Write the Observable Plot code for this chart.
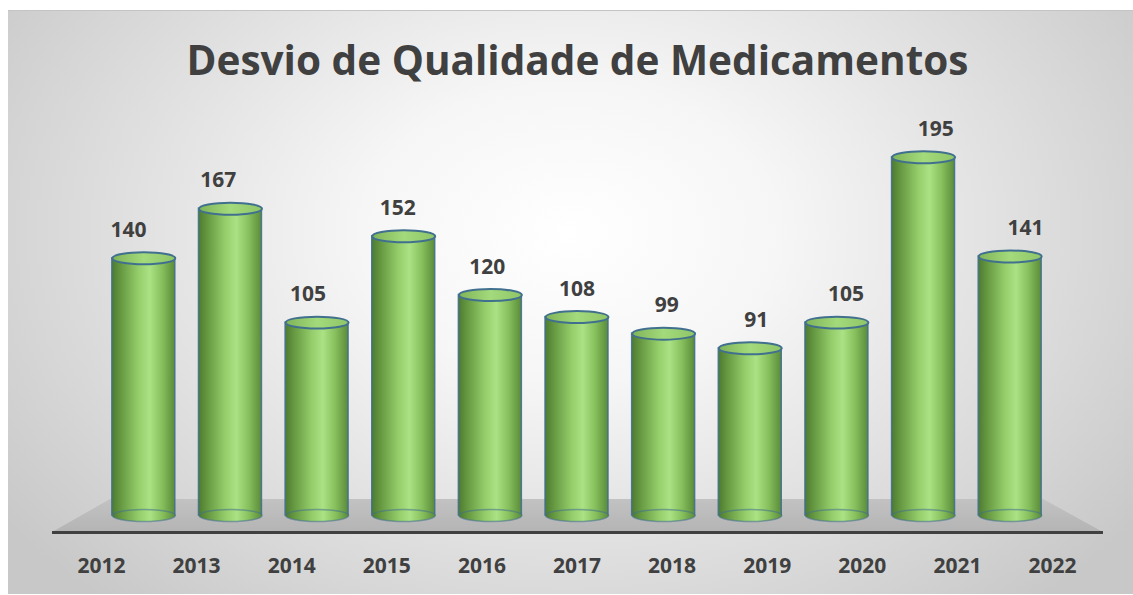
<!DOCTYPE html>
<html>
<head>
<meta charset="utf-8">
<script src="https://cdn.jsdelivr.net/npm/d3@7"></script>
<script src="https://cdn.jsdelivr.net/npm/@observablehq/plot@0.6"></script>
<style>
  html, body { margin: 0; padding: 0; background: #ffffff; }
  #wrap {
    position: absolute; left: 8px; top: 10px; width: 1125px; height: 583px;
    border-top: 1px solid #c4c4c4;
    background: radial-gradient(ellipse 62% 85% at 50% 38%, #ffffff 0%, #f6f6f6 30%, #dfdfdf 65%, #c8c8c8 100%);
    overflow: hidden;
  }
  #title {
    height: 90px; line-height: 90px; text-align: center;
    font-family: "Open Sans", sans-serif; font-weight: 700; font-size: 40.5px;
    color: #404040; padding-left: 14px; box-sizing: border-box;
    transform: translateY(4px);
  }
  #chart svg { display: block; }
</style>
</head>
<body>
<div id="wrap">
  <div id="title">Desvio de Qualidade de Medicamentos</div>
  <div id="chart"></div>
</div>
<script>
// ---- data ----
const years = [2012, 2013, 2014, 2015, 2016, 2017, 2018, 2019, 2020, 2021, 2022];
const values = [140, 167, 105, 152, 120, 108, 99, 91, 105, 195, 141];

// ---- perspective (3D look): bars sit deeper than the year labels ----
const mid = 2017;
const barDepth = 0.911;    // bars on the back plane
const labelDepth = 0.943;  // value labels slightly in front
const halfW = 0.331;       // half bar width in year units

const data = years.map((year, i) => ({
  year,
  value: values[i],
  bx: mid + (year - mid) * barDepth,
  lx: mid + (year - mid) * labelDepth
}));
data.forEach(d => { d.x1 = d.bx - halfW; d.x2 = d.bx + halfW; });

// floor (gray plane) and front edge
const floorBack = 8.7, floorFront = -9.25;
const floor = [
  {y: floorBack, x1: 2012.095, x2: 2021.905},
  {y: floorFront, x1: 2011.485, x2: 2022.536}
];

// ellipse symbol for cylinder caps
const ellipse = {
  draw(ctx, size) {
    const rx = Math.sqrt(size / Math.PI), ry = rx * 0.19, k = 0.5523;
    ctx.moveTo(-rx, 0);
    ctx.bezierCurveTo(-rx, -ry * k, -rx * k, -ry, 0, -ry);
    ctx.bezierCurveTo(rx * k, -ry, rx, -ry * k, rx, 0);
    ctx.bezierCurveTo(rx, ry * k, rx * k, ry, 0, ry);
    ctx.bezierCurveTo(-rx * k, ry, -rx, ry * k, -rx, 0);
    ctx.closePath();
  }
};

const edge = "#41708f";

const plot = Plot.plot({
  width: 1125,
  height: 492,
  marginLeft: 93,
  marginRight: 81,
  marginTop: 46.6,
  marginBottom: 61,
  style: {background: "transparent", color: "#404040", fontFamily: "'Open Sans', sans-serif", overflow: "visible"},
  x: {domain: [2012, 2022], axis: null},
  y: {domain: [floorFront, 200], axis: null},
  marks: [
    Plot.areaX(floor, {y: "y", x1: "x1", x2: "x2", fill: "url(#floorGrad)"}),
    Plot.ruleY([floorFront], {x1: 2011.485, x2: 2022.536, stroke: "#404040", strokeWidth: 3}),
    Plot.rectY(data, {x1: "x1", x2: "x2", y1: 0, y2: "value", fill: "url(#bodyGrad)", stroke: edge, strokeWidth: 1.5, strokeOpacity: 0.9}),
    Plot.dot(data, {x: "bx", y: 0, r: 31.5, symbol: ellipse, fill: "url(#bodyGrad)", stroke: edge, strokeWidth: 1.5, strokeOpacity: 0.55}),
    Plot.dot(data, {x: "bx", y: "value", r: 31.5, symbol: ellipse, fill: "url(#topGrad)", stroke: edge, strokeWidth: 2}),
    Plot.text(data, {x: "lx", y: "value", text: d => String(d.value), dy: -28, fontSize: 21, fontWeight: "bold", fill: "#404040"}),
    Plot.axisX({ticks: years, tickFormat: d => String(d), tickSize: 0, tickPadding: 26, fontSize: 21, fontWeight: "bold", color: "#404040"})
  ]
});

// gradients
const defs = d3.select(plot).insert("defs", ":first-child");
function grad(id, stops, vertical) {
  const g = defs.append("linearGradient").attr("id", id)
    .attr("x1", 0).attr("y1", 0).attr("x2", vertical ? 0 : 1).attr("y2", vertical ? 1 : 0);
  stops.forEach(([o, c]) => g.append("stop").attr("offset", o).attr("stop-color", c));
}
grad("bodyGrad", [[0, "#4d7a31"], [0.12, "#62943e"], [0.42, "#94cd6a"], [0.6, "#abe284"], [0.8, "#86bf5c"], [1, "#5a8b3a"]]);
grad("topGrad", [[0, "#7fb458"], [0.5, "#a3da7b"], [1, "#8fc566"]]);
grad("floorGrad", [[0, "#c2c2c2"], [1, "#b4b4b4"]], true);

document.getElementById("chart").appendChild(plot);
</script>
</body>
</html>
